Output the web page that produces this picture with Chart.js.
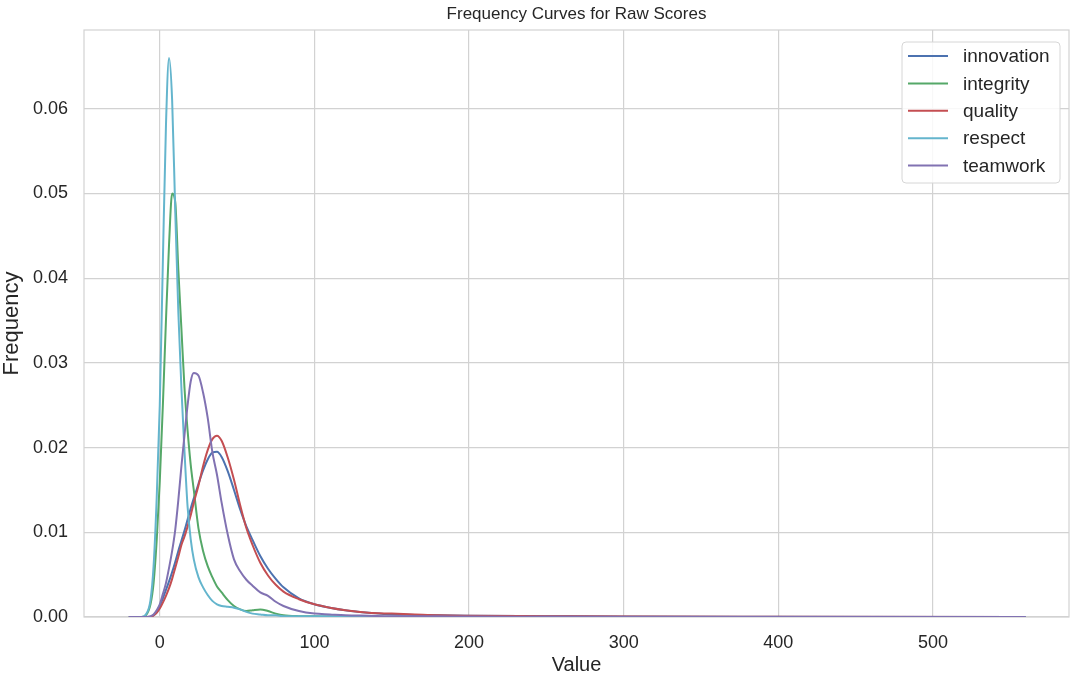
<!DOCTYPE html>
<html>
<head>
<meta charset="utf-8">
<title>Frequency Curves for Raw Scores</title>
<script src="https://cdn.jsdelivr.net/npm/chart.js@4.4.1/dist/chart.umd.min.js"></script>
<style>
    html, body { margin: 0; padding: 0; background: #ffffff; }
    #wrap { width: 1070px; height: 681px; }
</style>
</head>
<body>
<div id="wrap"><canvas id="freq-chart" width="1070" height="681"></canvas></div>
<script>
// Values (x = score, y = density)
const xValues = [-20, -12, -9, -6, -4, -2, 0, 2, 4, 6, 8, 10, 12, 14, 16, 18, 20, 22, 25, 28, 31, 34, 37, 40,
    44, 48, 52, 56, 60, 65, 70, 75, 80, 90, 100, 110, 120, 135, 150, 165, 180, 200, 250, 300, 400, 560];

const innovation = [0, 0, 0, 0, 0.0002, 0.0006, 0.0013, 0.0022, 0.0032, 0.0042, 0.0053, 0.0065, 0.0078, 0.009, 0.0102, 0.0115, 0.0128, 0.014, 0.0157, 0.0173, 0.0186, 0.0194, 0.0195, 0.0189,
    0.0172, 0.015, 0.0127, 0.0107, 0.0091, 0.0072, 0.0057, 0.0045, 0.0035, 0.0022, 0.0015, 0.0011, 0.0008, 0.0005, 0.0003, 0.00025, 0.0002, 0.00015, 0.0001, 0.00005, 0.00002, 0];

const integrity = [0, 0, 0.0002, 0.0015, 0.004, 0.009, 0.016, 0.025, 0.035, 0.044, 0.0500, 0.049, 0.041, 0.034, 0.027, 0.022, 0.018, 0.015, 0.0105, 0.0078, 0.006, 0.0047, 0.0036, 0.0029,
    0.002, 0.0013, 0.0009, 0.0007, 0.0008, 0.0009, 0.0007, 0.0004, 0.0002, 0.0001, 0.00008, 0.00005, 0.00003, 0.00002, 0.00001, 0, 0, 0, 0, 0, 0, 0];

const quality = [0, 0, 0, 0, 0.0002, 0.0005, 0.001, 0.0017, 0.0025, 0.0034, 0.0045, 0.0058, 0.0071, 0.0085, 0.0095, 0.0107, 0.012, 0.0135, 0.0155, 0.0178, 0.0197, 0.021, 0.0214, 0.0208,
    0.0188, 0.0162, 0.0132, 0.0105, 0.0085, 0.0064, 0.0049, 0.0038, 0.003, 0.0021, 0.0015, 0.0011, 0.0008, 0.0005, 0.0004, 0.0003, 0.0002, 0.00015, 0.0001, 0.00005, 0.00002, 0];

const respect = [0, 0, 0.0003, 0.002, 0.006, 0.014, 0.025, 0.042, 0.058, 0.066, 0.061, 0.048, 0.036, 0.027, 0.0195, 0.013, 0.0092, 0.0068, 0.0047, 0.0035, 0.0026, 0.0019, 0.0015, 0.0013,
    0.0012, 0.0011, 0.0009, 0.0006, 0.0004, 0.0003, 0.0002, 0.0002, 0.0001, 0.0001, 0.0001, 0.0001, 0.00005, 0.00003, 0.00002, 0.00001, 0.00001, 0.00001, 0, 0, 0, 0];

const teamwork = [0, 0, 0, 0.0001, 0.0003, 0.0008, 0.0015, 0.0027, 0.004, 0.0058, 0.0078, 0.0103, 0.0138, 0.0178, 0.0215, 0.025, 0.0278, 0.0288, 0.0285, 0.0265, 0.0235, 0.0195, 0.0168, 0.0135,
    0.0097, 0.0068, 0.0054, 0.0044, 0.0037, 0.0029, 0.0025, 0.0018, 0.0013, 0.0007, 0.0004, 0.0003, 0.0002, 0.00015, 0.0001, 0.0001, 0.00008, 0.00005, 0.00003, 0.00001, 0, 0];

const seriesNames = ['innovation', 'integrity', 'quality', 'respect', 'teamwork'];
const seriesValues = [innovation, integrity, quality, respect, teamwork];
const seriesColors = ['#4C72B0', '#55A868', '#C44E52', '#64B5CD', '#8172B2'];

const xTicks = [0, 100, 200, 300, 400, 500];
const yTicks = [0, 0.01, 0.02, 0.03, 0.04, 0.05, 0.06];

const textColor = '#262626';
const gridColor = '#d2d2d2';
const fontFamily = '"Liberation Sans", Arial, "DejaVu Sans", sans-serif';

const datasets = seriesNames.map((name, i) => ({
    label: name,
    data: xValues.map((x, j) => ({ x: x, y: seriesValues[i][j] })),
    borderColor: seriesColors[i],
    backgroundColor: seriesColors[i],
    borderWidth: 2,
    pointRadius: 0,
    cubicInterpolationMode: 'monotone',
    fill: false,
    order: seriesNames.length - i, // later series drawn on top, like matplotlib
}));

// Frame around the plot area, title and boxed legend
const framePlugin = {
    id: 'frame',
    beforeDatasetsDraw(chart) {
        const { ctx, chartArea: a } = chart;
        ctx.save();
        ctx.strokeStyle = gridColor;
        ctx.lineWidth = 1.2;
        ctx.strokeRect(a.left, a.top, a.right - a.left, a.bottom - a.top);
        ctx.restore();
    },
    afterDraw(chart) {
        const { ctx, chartArea: a } = chart;
        ctx.save();
        ctx.fillStyle = textColor;
        ctx.font = '17px ' + fontFamily;
        ctx.textAlign = 'center';
        ctx.textBaseline = 'middle';
        ctx.fillText('Frequency Curves for Raw Scores', (a.left + a.right) / 2, 14);

        // legend box
        const bx = 902, by = 42, bw = 158, bh = 141;
        ctx.beginPath();
        ctx.roundRect(bx, by, bw, bh, 4);
        ctx.fillStyle = 'rgba(255,255,255,0.85)';
        ctx.fill();
        ctx.strokeStyle = '#d6d6d6';
        ctx.lineWidth = 1;
        ctx.stroke();

        ctx.font = '19px ' + fontFamily;
        ctx.textAlign = 'left';
        seriesNames.forEach((name, i) => {
            const y = 56 + i * 27.4;
            ctx.strokeStyle = seriesColors[i];
            ctx.lineWidth = 2;
            ctx.beginPath();
            ctx.moveTo(908, y);
            ctx.lineTo(948, y);
            ctx.stroke();
            ctx.fillStyle = textColor;
            ctx.fillText(name, 963, y + 1);
        });
        ctx.restore();
    }
};

new Chart(document.getElementById('freq-chart'), {
    type: 'line',
    data: { datasets },
    options: {
        responsive: false,
        animation: false,
        events: [],
        layout: { padding: { top: 30, right: 1, left: 0, bottom: 0 } },
        scales: {
            x: {
                type: 'linear',
                min: -49,
                max: 588,
                afterBuildTicks: (scale) => { scale.ticks = xTicks.map(v => ({ value: v })); },
                afterFit: (scale) => { scale.height = 64; },
                grid: { color: gridColor, lineWidth: 1.2, drawTicks: false },
                border: { display: false },
                ticks: {
                    color: textColor,
                    font: { family: fontFamily, size: 18 },
                    padding: 15,
                    maxRotation: 0,
                    callback: (v) => String(v),
                },
                title: {
                    display: true,
                    text: 'Value',
                    color: textColor,
                    font: { family: fontFamily, size: 20, lineHeight: 1 },
                    padding: { top: 0, bottom: 6 },
                },
            },
            y: {
                type: 'linear',
                min: 0,
                max: 0.0693,
                afterBuildTicks: (scale) => { scale.ticks = yTicks.map(v => ({ value: v })); },
                afterFit: (scale) => { scale.width = 84; },
                grid: { color: gridColor, lineWidth: 1.2, drawTicks: false },
                border: { display: false },
                ticks: {
                    color: textColor,
                    font: { family: fontFamily, size: 18 },
                    padding: 16,
                    callback: (v) => v.toFixed(2),
                },
                title: {
                    display: true,
                    text: 'Frequency',
                    color: textColor,
                    font: { family: fontFamily, size: 22, lineHeight: 1 },
                    padding: { top: 1, bottom: 0 },
                },
            },
        },
        plugins: {
            legend: { display: false },
            title: { display: false },
            tooltip: { enabled: false },
        },
    },
    plugins: [framePlugin],
});
</script>
</body>
</html>
